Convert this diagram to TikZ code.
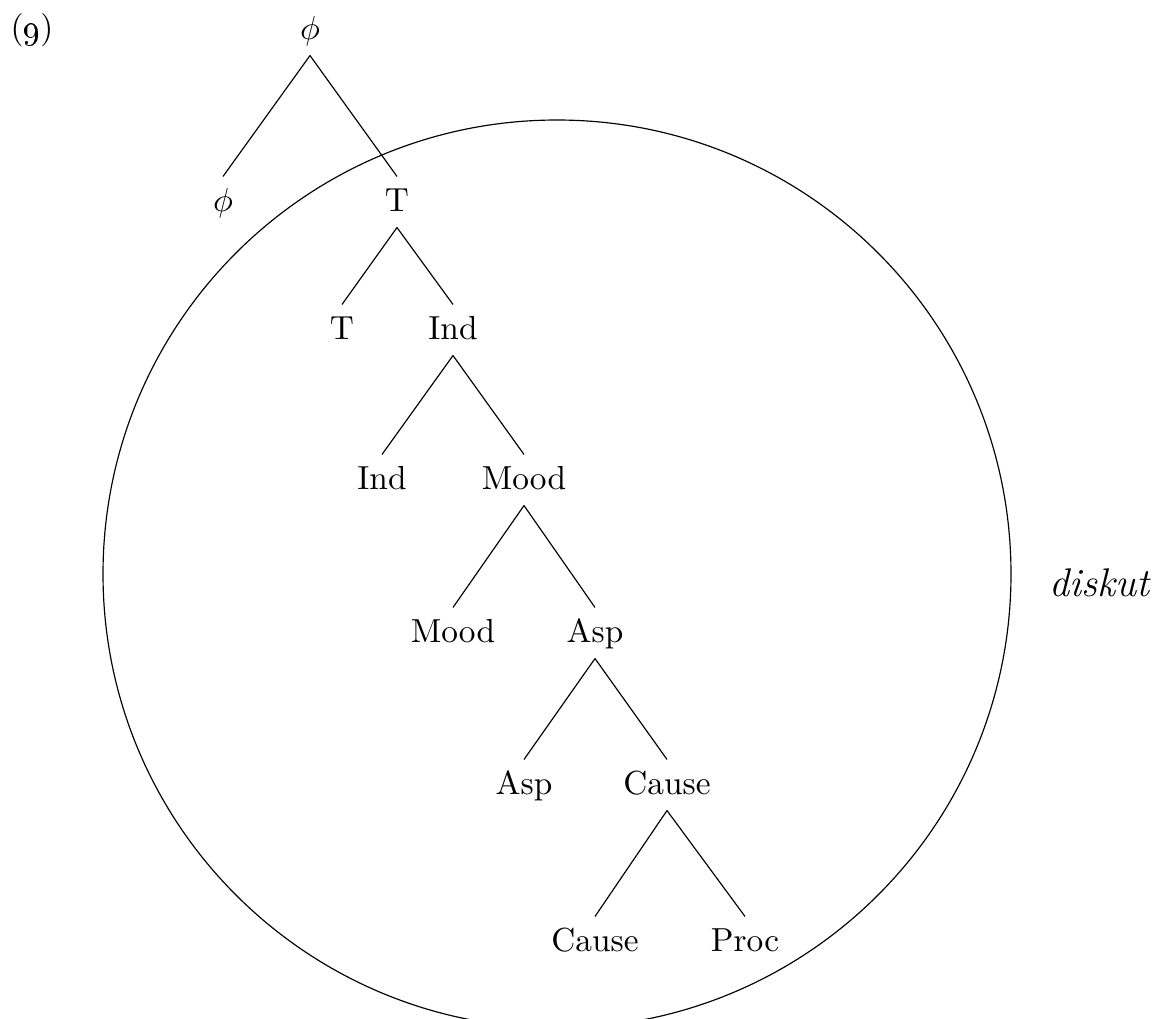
\documentclass[tikz,border=0pt]{standalone}
\usepackage{amsmath}
\usepackage{amssymb}
\usepackage{tikz}
\usetikzlibrary{positioning}

\begin{document}
\begin{tikzpicture}[x=0.3pt,y=-0.3pt,line width=0.35pt,
  cat node/.style={text height=1.6ex,text depth=0.25ex,inner sep=3.5pt}]
  \clip (0,0) rectangle (1163,1019);

  \node (ex) at (32,30) {(\oldstylenums{9})};

  \node[cat node] (1) at (310,30) {$\phi$};
  \node[cat node] (2) at (223,202) {$\phi$};
  \node[cat node] (3) at (397,202) {T};
  \node[cat node] (4) at (342,330) {T};
  \node[cat node] (5) at (453,330) {Ind};
  \node[cat node] (6) at (382,480) {Ind};
  \node[cat node] (7) at (524,480) {Mood};
  \node[cat node] (8) at (453,633) {Mood};
  \node[cat node] (9) at (595,633) {Asp};
  \node[cat node] (10) at (524,785) {Asp};
  \node[cat node] (11) at (667,785) {Cause};
  \node[cat node] (12) at (595,942) {Cause};
  \node[cat node] (13) at (745,942) {Proc};

  \path
    (1.south) edge (2.north) edge (3.north)
    (3.south) edge (4.north) edge (5.north)
    (5.south) edge (6.north) edge (7.north)
    (7.south) edge (8.north) edge (9.north)
    (9.south) edge (10.north) edge (11.north)
    (11.south) edge (12.north) edge (13.north);

  \draw (557,574) circle[radius=136.2pt];
  \node (dom) at (1100,583) {\large\textit{diskut}};
\end{tikzpicture}
\end{document}
